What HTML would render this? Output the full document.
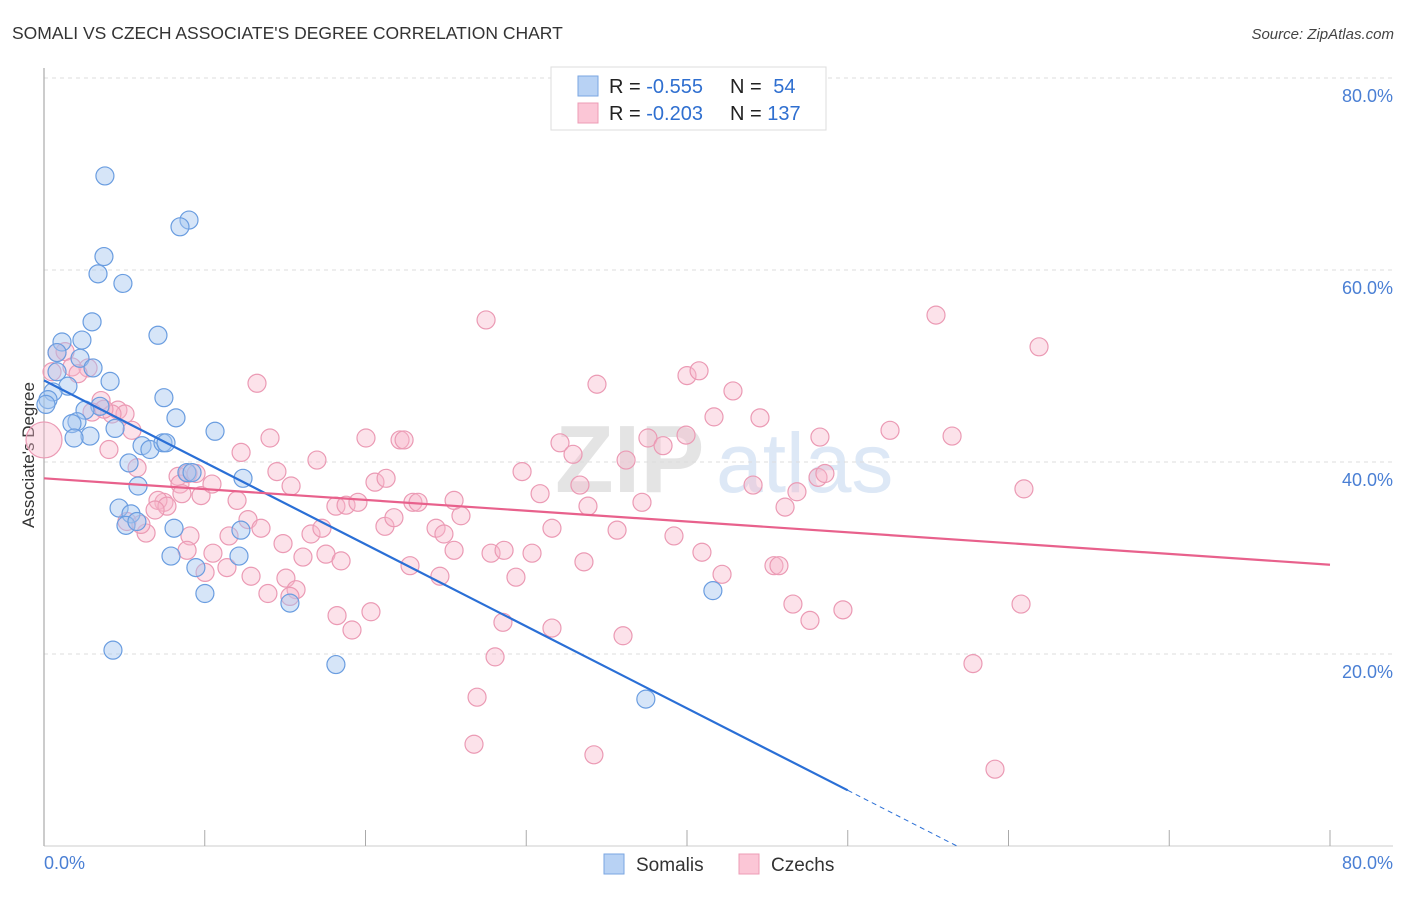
<!DOCTYPE html>
<html><head><meta charset="utf-8">
<style>
body{margin:0;background:#fff;font-family:"Liberation Sans",sans-serif;}
svg text{font-family:"Liberation Sans",sans-serif;}
</style></head>
<body>
<svg id="chart" width="1406" height="892" viewBox="0 0 1406 892" xmlns="http://www.w3.org/2000/svg">
<text x="12" y="39" font-size="17.5" fill="#333">SOMALI VS CZECH ASSOCIATE'S DEGREE CORRELATION CHART</text>
<text x="1394" y="39" font-size="15" fill="#444" font-style="italic" text-anchor="end">Source: ZipAtlas.com</text>
<g>
<text x="555" y="492" font-size="96" fill="#e4e4e4" font-family="Liberation Serif, serif" font-weight="bold">ZIP</text>
<text x="716" y="492" font-size="84" fill="#dde8f6">atlas</text>
</g>
<g id="grid"></g>
<g id="yticks"></g>
<line x1="44" y1="68" x2="44" y2="846" stroke="#aaa" stroke-width="1.2"/>
<line x1="44" y1="846" x2="1393" y2="846" stroke="#ccc" stroke-width="1"/>
<g id="xticks"></g>
<text x="44" y="869" font-size="18" fill="#4a7fd4">0.0%</text>
<text x="1393" y="869" font-size="18" fill="#4a7fd4" text-anchor="end">80.0%</text>
<text transform="translate(34,455) rotate(-90)" font-size="17" fill="#333" text-anchor="middle">Associate's Degree</text>
<g id="pinkPts"></g>
<g id="bluePts"></g>
<g id="lines"></g>
<g>
<rect x="551" y="67" width="275" height="63" fill="#fff" stroke="#ddd"/>
<rect x="578" y="76" width="20" height="20" fill="#b8d2f4" stroke="#7aa6e2"/>
<rect x="578" y="103" width="20" height="20" fill="#fbc6d6" stroke="#ec9cb6"/>
<text x="609" y="93" font-size="20" fill="#222">R = <tspan fill="#2f6fd0">-0.555</tspan></text>
<text x="730" y="93" font-size="20" fill="#222">N = <tspan fill="#2f6fd0" dx="6">54</tspan></text>
<text x="609" y="120" font-size="20" fill="#222">R = <tspan fill="#2f6fd0">-0.203</tspan></text>
<text x="730" y="120" font-size="20" fill="#222">N = <tspan fill="#2f6fd0">137</tspan></text>
</g>
<g>
<rect x="604" y="854" width="20" height="20" fill="#b8d2f4" stroke="#7aa6e2"/>
<text x="636" y="871" font-size="19" fill="#333">Somalis</text>
<rect x="739" y="854" width="20" height="20" fill="#fbc6d6" stroke="#ec9cb6"/>
<text x="771" y="871" font-size="19" fill="#333">Czechs</text>
</g>
</svg>
<script>
const yTicks=[20,40,60,80];
const yTickLabels=["20.0%","40.0%","60.0%","80.0%"];
const xTicks=[0,10,20,30,40,50,60,70,80];
const somaliX=[3.79,9.02,8.46,3.73,3.36,4.91,2.99,7.09,2.36,1.12,0.81,2.24,3.05,0.81,4.11,1.49,0.56,0.25,7.46,3.48,2.55,8.21,2.05,1.74,4.42,2.86,1.87,10.64,6.10,6.59,7.40,7.59,5.29,8.89,9.21,12.38,5.85,4.67,5.41,5.10,5.78,8.09,12.25,7.90,12.13,9.45,10.01,15.30,41.61,4.29,18.16,37.44,0.12];
const somaliY=[69.8,65.2,64.5,61.4,59.6,58.6,54.6,53.2,52.7,52.5,51.4,50.8,49.8,49.4,48.4,47.9,47.3,46.5,46.7,45.8,45.4,44.6,44.2,44.0,43.5,42.7,42.5,43.2,41.7,41.3,42.0,42.0,39.9,38.9,38.9,38.3,37.5,35.2,34.6,33.4,33.8,33.1,32.9,30.2,30.2,29.0,26.3,25.3,26.6,20.4,18.9,15.3,46.0];
const czechX=[0.81,1.31,1.74,2.74,0.50,2.12,3.55,4.60,5.04,4.23,2.99,3.73,5.47,4.04,5.79,5.16,6.35,6.03,7.46,7.09,7.65,6.91,8.34,8.46,8.96,9.46,8.58,9.77,10.45,9.08,8.90,10.02,10.51,11.51,11.38,12.01,12.26,12.69,12.88,13.25,13.50,13.93,14.06,14.49,14.87,15.37,15.05,15.68,15.30,16.11,16.61,16.98,17.29,17.54,18.16,18.23,18.48,18.79,19.16,19.53,20.03,20.34,20.59,21.21,21.28,21.77,22.15,22.40,22.77,22.95,23.27,24.39,24.63,24.88,25.51,25.94,25.51,26.94,26.75,27.50,27.81,28.62,28.55,28.06,29.36,29.74,30.36,30.86,31.60,31.60,32.10,32.91,33.34,33.59,33.84,34.40,34.21,35.65,36.02,36.21,37.20,37.57,38.51,39.19,39.94,40.00,40.75,40.93,41.68,42.18,42.86,44.11,44.54,45.41,45.72,46.10,46.84,46.59,47.65,48.27,48.15,48.58,49.70,52.63,55.49,56.49,57.79,59.16,60.78,60.96,61.90,0.0];
const czechY=[51.4,51.5,49.9,49.8,49.4,49.2,46.4,45.4,45.0,45.0,45.2,45.5,43.3,41.3,39.4,33.8,32.6,33.5,35.8,36.0,35.4,35.0,38.5,37.7,38.8,38.8,36.7,36.5,37.7,32.3,30.8,28.5,30.5,32.3,29.0,36.0,41.0,34.0,28.1,48.2,33.1,26.3,42.5,39.0,31.5,37.5,27.9,26.7,26.0,30.1,32.5,40.2,33.1,30.4,35.4,24.0,29.7,35.5,22.5,35.8,42.5,24.4,37.9,33.3,38.3,34.2,42.3,42.3,29.2,35.8,35.8,33.1,28.1,32.5,30.8,34.4,36.0,15.5,10.6,54.8,30.5,30.8,23.3,19.7,28.0,39.0,30.5,36.7,33.1,22.7,42.0,40.8,37.6,29.6,35.4,48.1,9.5,32.9,21.9,40.2,35.8,42.5,41.7,32.3,42.8,49.0,49.5,30.6,44.7,28.3,47.4,37.6,44.6,29.2,29.2,35.3,36.9,25.2,23.5,42.6,38.4,38.8,24.6,43.3,55.3,42.7,19.0,8.0,25.2,37.2,52.0,42.3];
const czechSize=[];
const trendIntercept=[48.5,38.3];
const trendSlope=[-0.854,-0.1125];
const trendSolidEnd=[50,80];
const trendDashEnd=[56.8,80];

const NS="http://www.w3.org/2000/svg";
const X0=44,X1=1330,Y0=846,Y1=78;
const sx=v=>X0+v/80*(X1-X0);
const sy=v=>Y0-v/80*(Y0-Y1);
function mk(tag,attrs,parent){const e=document.createElementNS(NS,tag);for(const k in attrs)e.setAttribute(k,attrs[k]);parent.appendChild(e);return e;}
const grid=document.getElementById('grid'),yt=document.getElementById('yticks'),xt=document.getElementById('xticks');
yTicks.forEach((t,i)=>{
 const l=mk('line',{x1:44,x2:1393,y1:sy(t),y2:sy(t),stroke:'#ddd','stroke-dasharray':'4,4'},grid);
 
 
 const tx=mk('text',{x:1393,y:sy(t)+24,'font-size':18,fill:'#4a7fd4','text-anchor':'end'},yt);
 tx.textContent=yTickLabels[i];
 
 
});
xTicks.forEach(t=>{
 const l=mk('line',{x1:sx(t),x2:sx(t),y1:830,y2:846,stroke:'#aaa'},xt);
 
 
});
const pg=document.getElementById('pinkPts');
czechX.forEach((x,i)=>{
 const big=(i===czechX.length-1);
 const c=mk('circle',{cx:sx(x),cy:sy(czechY[i]),r:big?18:9,fill:'rgba(248,182,202,0.4)',stroke:'#eb9ab4','stroke-width':1.2},pg);
 
 
});
const bg=document.getElementById('bluePts');
somaliX.forEach((x,i)=>{
 const c=mk('circle',{cx:sx(x),cy:sy(somaliY[i]),r:9,fill:'rgba(164,198,240,0.45)',stroke:'#6a9de0','stroke-width':1.2},bg);
 
 
});
const lg=document.getElementById('lines');
const colors=['#2a6fd6','#e8618c'];
trendIntercept.forEach((b,i)=>{
 const m=trendSlope[i];
 const l=mk('line',{x1:sx(0),y1:sy(b),x2:sx(trendSolidEnd[i]),y2:sy(b+m*trendSolidEnd[i]),stroke:colors[i],'stroke-width':2.2},lg);
 
 
 if(trendDashEnd[i]>trendSolidEnd[i]){
  const d=mk('line',{x1:sx(trendSolidEnd[i]),y1:sy(b+m*trendSolidEnd[i]),x2:sx(trendDashEnd[i]),y2:sy(b+m*trendDashEnd[i]),stroke:colors[i],'stroke-width':1,'stroke-dasharray':'5,4'},lg);
  
  
 }
});
</script>
</body></html>
